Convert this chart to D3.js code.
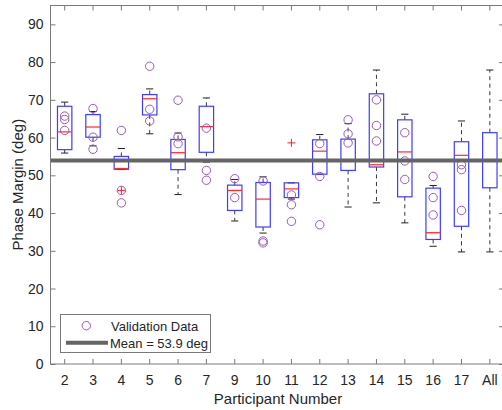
<!DOCTYPE html>
<html>
<head>
<meta charset="utf-8">
<script src="https://cdn.jsdelivr.net/npm/d3@7"></script>
<style>
  body { margin: 0; background: #fff; }
  svg { display: block; font-family: "Liberation Sans", Arial, sans-serif; }
</style>
</head>
<body>
<svg id="chart" width="502" height="410"></svg>
<script>
// participants on the x axis
let categories = ["2", "3", "4", "5", "6", "7", "9", "10", "11", "12", "13", "14", "15", "16", "17", "All"];

// box statistics per participant (deg)
let q3 = [68.3, 66.1, 55.0, 71.4, 59.5, 68.3, 47.4, 48.1, 48.0, 59.4, 59.6, 71.6, 64.7, 46.6, 58.9, 61.3];
let medians = [61.5, 62.8, 51.8, 70.3, 56.0, 62.9, 46.0, 43.7, 46.4, 56.4, 54.1, 52.8, 56.2, 34.8, 55.3, 53.8];
let q1 = [56.8, 60.1, 51.6, 66.0, 51.5, 56.1, 40.7, 36.3, 44.1, 50.3, 51.3, 52.2, 44.3, 33.0, 36.5, 46.7];
let whiskerHi = [69.4, 66.9, 57.1, 72.9, 61.2, 70.5, 48.9, 49.6, 48.0, 60.8, 63.7, 77.9, 66.2, 47.3, 64.4, 77.9];
let whiskerLo = [55.9, 57.8, 51.6, 61.0, 44.9, 53.5, 37.9, 34.7, 43.7, 50.3, 41.6, 42.7, 37.4, 31.2, 29.7, 29.7];

// outliers (red +)
let outliers = [{cat: "4", v: 46.0}, {cat: "11", v: 58.6}];

// validation data (purple circles)
let validation = [
    [65.7, 64.8, 61.9],
    [67.7, 60.1, 56.9],
    [61.9, 46.0, 42.7],
    [78.9, 67.5, 64.4],
    [69.9, 60.2, 58.4],
    [62.5, 51.3, 48.7],
    [49.1, 44.1],
    [48.5, 32.6, 32.1],
    [44.8, 42.2, 37.8],
    [58.4, 49.7, 36.9],
    [64.7, 61.0, 58.6],
    [70.0, 63.2, 59.1],
    [61.3, 53.8, 48.9],
    [49.7, 44.1, 39.5],
    [52.8, 51.5, 40.7],
    []
];

let meanValue = 53.9;
let yTicks = [0, 10, 20, 30, 40, 50, 60, 70, 80, 90];

// layout
let plot = {left: 50.5, right: 504, top: 5.5, bottom: 364};
let svg = d3.select("#chart");

let x = d3.scaleBand()
    .domain(categories)
    .range([plot.left, plot.right])
    .padding(0);
let cx = c => x(c) + x.bandwidth() / 2;
let y = d3.scaleLinear()
    .domain([0, 95])
    .range([plot.bottom, plot.top]);

let boxW = 14.4, capW = 7.2;
let stats = categories.map((c, i) => ({
    cat: c, q1: q1[i], q3: q3[i], med: medians[i], lo: whiskerLo[i], hi: whiskerHi[i]
}));

let body = svg.append("g");

// whiskers (dashed)
body.selectAll(".whHi").data(stats).enter().append("line")
    .attr("x1", d => cx(d.cat)).attr("x2", d => cx(d.cat))
    .attr("y1", d => y(d.q3)).attr("y2", d => y(d.hi))
    .attr("stroke", "#222").attr("stroke-width", 0.9).attr("stroke-dasharray", "4,3.5");
body.selectAll(".whLo").data(stats).enter().append("line")
    .attr("x1", d => cx(d.cat)).attr("x2", d => cx(d.cat))
    .attr("y1", d => y(d.q1)).attr("y2", d => y(d.lo))
    .attr("stroke", "#222").attr("stroke-width", 0.9).attr("stroke-dasharray", "4,3.5");
// caps
["hi", "lo"].forEach(k => {
    body.selectAll(".cap" + k).data(stats).enter().append("line")
        .attr("x1", d => cx(d.cat) - capW / 2).attr("x2", d => cx(d.cat) + capW / 2)
        .attr("y1", d => y(d[k])).attr("y2", d => y(d[k]))
        .attr("stroke", "#222").attr("stroke-width", 1);
});

// boxes
body.selectAll(".box").data(stats).enter().append("rect")
    .attr("x", d => cx(d.cat) - boxW / 2)
    .attr("width", boxW)
    .attr("y", d => y(d.q3))
    .attr("height", d => y(d.q1) - y(d.q3))
    .attr("fill", "none")
    .attr("stroke", "#3d3dff")
    .attr("stroke-width", 1.2);

// medians
body.selectAll(".med").data(stats).enter().append("line")
    .attr("x1", d => cx(d.cat) - boxW / 2).attr("x2", d => cx(d.cat) + boxW / 2)
    .attr("y1", d => y(d.med)).attr("y2", d => y(d.med))
    .attr("stroke", "#ff2a2a").attr("stroke-width", 1.2);

// outliers
let plus = body.selectAll(".out").data(outliers).enter().append("g")
    .attr("transform", d => `translate(${cx(d.cat)},${y(d.v)})`);
plus.append("line").attr("x1", -4).attr("x2", 4).attr("stroke", "#ff2020").attr("stroke-width", 1);
plus.append("line").attr("y1", -4).attr("y2", 4).attr("stroke", "#ff2020").attr("stroke-width", 1);

// validation circles
let pts = [];
validation.forEach((arr, i) => arr.forEach(v => pts.push({cat: categories[i], v: v})));
body.selectAll(".pt").data(pts).enter().append("circle")
    .attr("cx", d => cx(d.cat))
    .attr("cy", d => y(d.v))
    .attr("r", 4.2)
    .attr("fill", "none")
    .attr("stroke", "#9b59b6")
    .attr("stroke-width", 1);

// mean line
body.append("line")
    .attr("x1", plot.left).attr("x2", plot.right)
    .attr("y1", y(meanValue)).attr("y2", y(meanValue))
    .attr("stroke", "#656565").attr("stroke-width", 4);

// axes
let axisColor = "#7a7a7a", textColor = "#262626";
let yAx = svg.append("g").attr("transform", `translate(${plot.left},0)`)
    .call(d3.axisLeft(y).tickValues(yTicks).tickSize(-5).tickPadding(7));
let yAxR = svg.append("g").attr("transform", `translate(${plot.right},0)`)
    .call(d3.axisRight(y).tickValues(yTicks).tickSize(-5).tickFormat(""));
let xAx = svg.append("g").attr("transform", `translate(0,${plot.bottom})`)
    .call(d3.axisBottom(x).tickSize(-5).tickPadding(11));
let xAxT = svg.append("g").attr("transform", `translate(0,${plot.top})`)
    .call(d3.axisTop(x).tickSize(-5).tickFormat(""));
[yAx, yAxR, xAx, xAxT].forEach(a => {
    a.select(".domain").remove();
    a.selectAll("line").attr("stroke", axisColor);
    a.selectAll("text").attr("fill", textColor).style("font-size", "14px");
});
svg.append("rect")
    .attr("x", plot.left).attr("y", plot.top)
    .attr("width", plot.right - plot.left).attr("height", plot.bottom - plot.top)
    .attr("fill", "none").attr("stroke", axisColor).attr("stroke-width", 1);

// axis labels
svg.append("text")
    .attr("x", 278).attr("y", 404)
    .attr("text-anchor", "middle")
    .attr("fill", textColor).style("font-size", "15px")
    .text("Participant Number");
svg.append("text")
    .attr("transform", `translate(23,${(plot.top + plot.bottom) / 2}) rotate(-90)`)
    .attr("text-anchor", "middle")
    .attr("fill", textColor).style("font-size", "15px")
    .text("Phase Margin (deg)");

// legend
let lg = svg.append("g");
lg.append("rect").attr("x", 60.5).attr("y", 314.5).attr("width", 150).attr("height", 38)
    .attr("fill", "#fff").attr("stroke", "#7a7a7a").attr("stroke-width", 1);
lg.append("circle").attr("cx", 86.3).attr("cy", 325.7).attr("r", 4.2)
    .attr("fill", "none").attr("stroke", "#9b59b6").attr("stroke-width", 1);
lg.append("text").attr("x", 111).attr("y", 330.5).attr("fill", textColor)
    .style("font-size", "13px").text("Validation Data");
lg.append("line").attr("x1", 66).attr("x2", 108).attr("y1", 342.7).attr("y2", 342.7)
    .attr("stroke", "#656565").attr("stroke-width", 4);
lg.append("text").attr("x", 110).attr("y", 347.5).attr("fill", textColor)
    .style("font-size", "13px").text("Mean = 53.9 deg");
</script>
</body>
</html>
